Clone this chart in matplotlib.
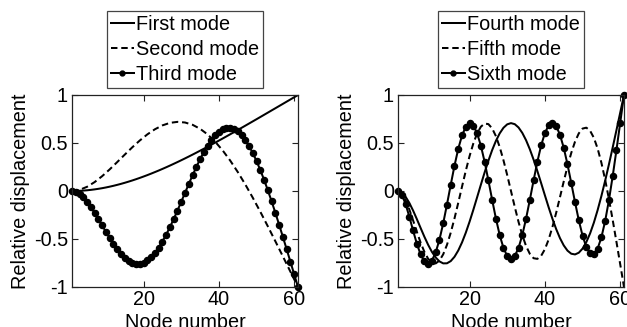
import matplotlib
matplotlib.use("Agg")
import matplotlib.pyplot as plt
import numpy as np

plt.rcParams['font.family'] = ['Liberation Sans', 'DejaVu Sans']

# ---------------- data ----------------
nodes = list(range(1, 62))
nodes_every2 = list(range(1, 62, 2))

first_mode = [0, .0005, .0019, .0043, .0076, .0117, .0168, .0227, .0293, .0368,
              .0451, .0541, .0639, .0743, .0855, .0973, .1097, .1228, .1365, .1508,
              .1655, .1809, .1968, .2130, .2299, .2471, .2648, .2830, .3014, .3203,
              .3395, .3590, .3789, .3991, .4195, .4402, .4611, .4823, .5036, .5252,
              .5469, .5688, .5909, .6130, .6353, .6577, .6802, .7028, .7254, .7480,
              .7708, .7937, .8165, .8395, .8623, .8852, .9081, .9311, .9539, .9768, 1.0]

second_mode = [0, .0116, .0438, .0926, .1543, .2250, .3011, .3788, .4549, .5261,
               .5896, .6428, .6834, .7097, .7201, .7136, .6897, .6482, .5894, .5138,
               .4226, .3169, .1983, .0686, -.0704, -.2167, -.3687, -.5244, -.6823,
               -.8414, -1.0]

third_mode = [0, -.0082, -.0313, -.0670, -.1132, -.1679, -.2284, -.2928, -.3591, -.4252,
              -.4894, -.5499, -.6049, -.6533, -.6936, -.7249, -.7462, -.7569, -.7566, -.7451,
              -.7222, -.6883, -.6440, -.5895, -.5261, -.4546, -.3760, -.2919, -.2034, -.1122,
              -.0198, .0724, .1626, .2493, .3312, .4064, .4739, .5325, .5808, .6183,
              .6438, .6571, .6576, .6453, .6198, .5817, .5312, .4687, .3951, .3111,
              .2178, .1160, .0069, -.1082, -.2284, -.3526, -.4795, -.6085, -.7386, -.8694, -1.0]

fourth_mode = [0, -.0158, -.0590, -.1234, -.2032, -.2923, -.3850, -.4760, -.5604, -.6338,
               -.6924, -.7332, -.7539, -.7531, -.7301, -.6853, -.6196, -.5351, -.4341, -.3198,
               -.1958, -.0658, .0655, .1940, .3155, .4263, .5222, .6005, .6585, .6945,
               .7071, .6961, .6617, .6053, .5288, .4347, .3265, .2076, .0823, -.0452,
               -.1706, -.2893, -.3974, -.4909, -.5666, -.6215, -.6534, -.6608, -.6429, -.6000,
               -.5324, -.4416, -.3296, -.1988, -.0520, .1077, .2772, .4536, .6342, .8168, 1.0]

fifth_mode = [0, -.0255, -.0936, -.1911, -.3054, -.4245, -.5372, -.6338, -.7059, -.7476,
              -.7545, -.7250, -.6596, -.5611, -.4341, -.2852, -.1221, .0464, .2113, .3638,
              .4955, .5993, .6697, .7027, .6966, .6519, .5710, .4583, .3203, .1646,
              -.0008, -.1659, -.3220, -.4603, -.5734, -.6548, -.7003, -.7071, -.6753, -.6065,
              -.5045, -.3752, -.2257, -.0646, .0991, .2560, .3971, .5143, .6004, .6502,
              .6597, .6276, .5541, .4416, .2940, .1167, -.0842, -.3021, -.5306, -.7645, -1.0]

sixth_mode = [0, -.0375, -.1341, -.2662, -.4114, -.5490, -.6609, -.7332, -.7560, -.7250,
              -.6405, -.5077, -.3368, -.1407, .0650, .2639, .4400, .5791, .6697, .7048,
              .6814, .6017, .4723, .3037, .1101, -.0927, -.2879, -.4595, -.5933, -.6780,
              -.7071, -.6780, -.5930, -.4591, -.2875, -.0921, .1111, .3051, .4741, .6041,
              .6846, .7090, .6753, .5865, .4500, .2773, .0828, -.1171, -.3052, -.4657,
              -.5843, -.6502, -.6562, -.6000, -.4833, -.3120, -.0954, .1552, .4281, .7123, 1.0]

left_labels = ["First mode", "Second mode", "Third mode"]
right_labels = ["Fourth mode", "Fifth mode", "Sixth mode"]

x_ticks = [20, 40, 60]
x_ticklabels = ["20", "40", "60"]
y_ticks = [-1, -0.5, 0, 0.5, 1]
y_ticklabels = ["-1", "-0.5", "0", "0.5", "1"]
x_label = "Node number"
y_label = "Relative displacement"

# ---------------- drawing ----------------
FS = 14.3
W, H = 627, 327
fig = plt.figure(figsize=(W / 100, H / 100), dpi=100)

ax_l = fig.add_axes([72 / W, (H - 287) / H, 226 / W, 192 / H])
ax_r = fig.add_axes([398 / W, (H - 287) / H, 226 / W, 192 / H])

LW = 1.45
MS = 4.4
dash = (0, (3.2, 1.9))


def style(ax):
    ax.set_xlim(1, 61)
    ax.set_ylim(-1, 1)
    ax.set_xticks(x_ticks)
    ax.set_xticklabels(x_ticklabels)
    ax.set_yticks(y_ticks)
    ax.set_yticklabels(y_ticklabels)
    ax.tick_params(direction='in', top=True, right=True, length=4, width=0.8,
                   labelsize=FS, color='#222222')
    ax.tick_params(axis='x', pad=2.5)
    ax.tick_params(axis='y', pad=3)
    for s in ax.spines.values():
        s.set_linewidth(0.9)
        s.set_color('#222222')
    ax.set_xlabel(x_label, fontsize=FS)
    ax.set_ylabel(y_label, fontsize=FS)
    ax.xaxis.set_label_coords(0.5, -0.135)
    ax.yaxis.set_label_coords(-0.185, 0.5)


def add_legend(ax, handles, labels):
    leg = ax.legend(handles, labels, loc='lower center', bbox_to_anchor=(0.5, 1.036),
                    borderaxespad=0, fontsize=FS, frameon=True, fancybox=False,
                    framealpha=1, edgecolor='#444444', borderpad=0.2,
                    labelspacing=0.3, handlelength=1.15, handletextpad=0.12,
                    numpoints=1, markerscale=0.8)
    leg.get_frame().set_linewidth(0.9)


h1, = ax_l.plot(nodes, first_mode, color='black', lw=LW)
h2, = ax_l.plot(nodes_every2, second_mode, color='black', lw=LW, linestyle=dash)
h3, = ax_l.plot(nodes, third_mode, color='black', lw=LW, marker='o', markersize=MS,
                clip_on=False)
style(ax_l)
add_legend(ax_l, [h1, h2, h3], left_labels)

g1, = ax_r.plot(nodes, fourth_mode, color='black', lw=LW)
g2, = ax_r.plot(nodes, fifth_mode, color='black', lw=LW, linestyle=dash)
g3, = ax_r.plot(nodes, sixth_mode, color='black', lw=LW, marker='o', markersize=MS,
                clip_on=False)
style(ax_r)
add_legend(ax_r, [g1, g2, g3], right_labels)

fig.savefig("out.png", dpi=100)
